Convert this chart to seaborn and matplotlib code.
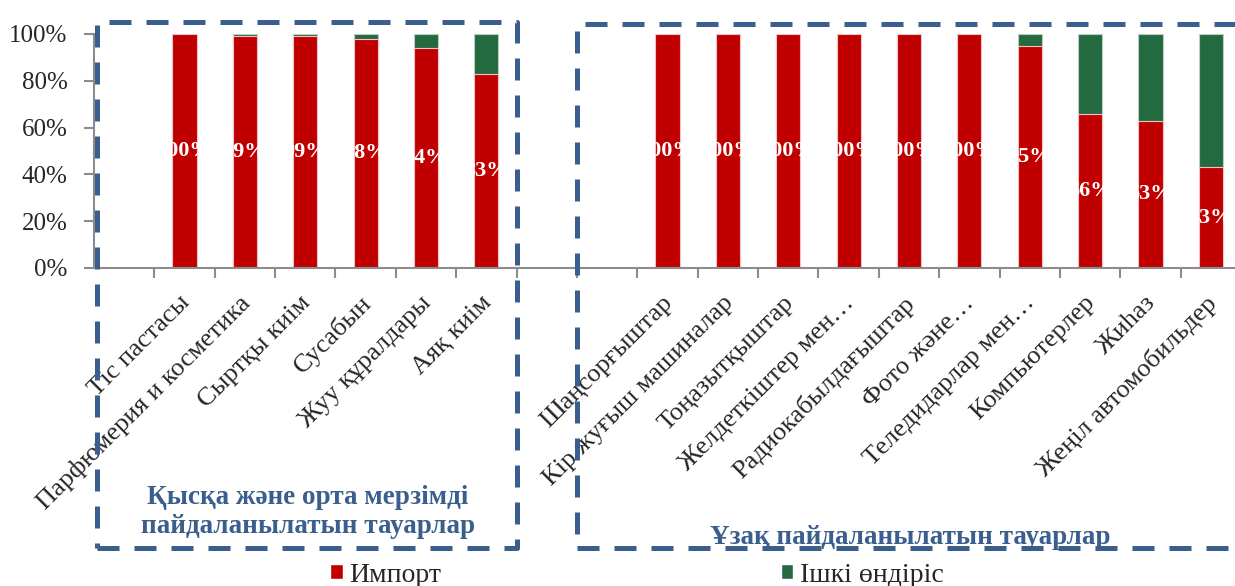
import numpy as np
import pandas as pd
import matplotlib
matplotlib.use("Agg")
import matplotlib.pyplot as plt
import seaborn as sns
from matplotlib.patches import Rectangle, Patch
from matplotlib.transforms import ScaledTranslation

# --- data -------------------------------------------------------------
short_goods = ["Тіс пастасы", "Парфюмерия и косметика", "Сыртқы киім",
               "Сусабын", "Жуу құралдары", "Аяқ киім"]
short_import = [100, 99, 99, 98, 94, 83]
short_domestic = [0, 1, 1, 2, 6, 17]

long_goods = ["Шаңсорғыштар", "Кір жуғыш машиналар", "Тоңазытқыштар",
              "Желдеткіштер мен…", "Радиокабылдағыштар", "Фото және…",
              "Теледидарлар мен…", "Компьютерлер", "Жиһаз",
              "Жеңіл автомобильдер"]
long_import = [100, 100, 100, 100, 100, 100, 95, 66, 63, 43]
long_domestic = [0, 0, 0, 0, 0, 0, 5, 34, 37, 57]

series_names = ["Импорт", "Ішкі өндіріс"]
group_titles = ["Қысқа және орта мерзімді\nпайдаланылатын тауарлар",
                "Ұзақ пайдаланылатын тауарлар"]
y_ticks = [0, 20, 40, 60, 80, 100]

RED = "#C00000"
GREEN = "#246A41"
BLUE = "#3A5F8E"
GRAY = "#8C8C8C"

# --- frame --------------------------------------------------------------
sns.set_theme(style="white")
plt.rcParams["font.family"] = ["Liberation Serif", "DejaVu Serif"]

goods = short_goods + long_goods
df = pd.DataFrame({
    "good": goods,
    "import": short_import + long_import,
    "domestic": short_domestic + long_domestic,
})
df["total"] = df["import"] + df["domestic"]

# empty slots separate the two groups on the category axis
gap_a, gap_b, gap_c = " ", "  ", "   "
order = [gap_a] + short_goods + [gap_b, gap_c] + long_goods

W, H, DPI = 1235, 586, 100
fig = plt.figure(figsize=(W / DPI, H / DPI), dpi=DPI)
ax = fig.add_axes([94 / W, 1 - 268 / H, (1241 - 94) / W, 234 / H])

sns.barplot(data=df, x="good", y="total", order=order, color=GREEN,
            width=0.4, edgecolor="#b9cfc0", linewidth=0.8,
            ax=ax, saturation=1)
sns.barplot(data=df, x="good", y="import", order=order, color=RED,
            width=0.4, edgecolor="#efc4c4", linewidth=0.8,
            ax=ax, saturation=1)
if ax.get_legend() is not None:
    ax.get_legend().remove()

ax.set_xlim(-0.5, len(order) - 0.5)
ax.set_ylim(0, 100)
ax.set_xlabel("")
ax.set_ylabel("")
ax.grid(False)

# value labels in the middle of the import segment
pos = {name: i for i, name in enumerate(order)}
for _, row in df.iterrows():
    ax.text(pos[row["good"]], row["import"] / 2, f"{row['import']:.0f}%",
            ha="center", va="center", color="white", fontsize=16,
            fontweight="bold", zorder=5)

# axes styling
for side in ("top", "right"):
    ax.spines[side].set_visible(False)
for side in ("left", "bottom"):
    ax.spines[side].set_color(GRAY)
    ax.spines[side].set_linewidth(1.5)

ax.set_yticks(y_ticks)
ax.set_yticklabels([f"{v}%" for v in y_ticks])
ax.tick_params(axis="y", length=7, width=1.5, color=GRAY, pad=12,
               labelsize=18, left=True, direction="out")

labels = ["" if n.strip() == "" else n for n in order]
ax.set_xticks(range(len(order)))
ax.set_xticklabels(labels)
ax.tick_params(axis="x", which="major", length=0, pad=17, labelsize=19)
ax.set_xticks(np.arange(0.5, len(order) - 1, 1), minor=True)
ax.tick_params(axis="x", which="minor", length=7, width=1.5, color=GRAY,
               bottom=True, direction="out")
shift = ScaledTranslation(-6 / DPI, 0, fig.dpi_scale_trans)
for lbl in ax.get_xticklabels():
    lbl.set_rotation(45)
    lbl.set_ha("right")
    lbl.set_rotation_mode("anchor")
    lbl.set_transform(lbl.get_transform() + shift)

# --- group frames -------------------------------------------------------
def px_rect(x0, y0, x1, y1):
    return Rectangle((x0 / W, 1 - y1 / H), (x1 - x0) / W, (y1 - y0) / H,
                     transform=fig.transFigure, fill=False, edgecolor=BLUE,
                     linewidth=3.6, linestyle=(0, (4.4, 3.0)),
                     joinstyle="round", zorder=10)

fig.patches.append(px_rect(97, 22, 517, 548))
fig.patches.append(px_rect(577, 24, 1265, 548))

fig.text(308 / W, 1 - 512 / H, group_titles[0], ha="center", va="center",
         color=BLUE, fontsize=19.5, fontweight="bold", linespacing=1.2)
fig.text(910 / W, 1 - 537 / H, group_titles[1], ha="center", va="center",
         color=BLUE, fontsize=19.5, fontweight="bold")

# --- legend -------------------------------------------------------------
handles = [Patch(facecolor=RED), Patch(facecolor=GREEN)]
fig.legend(handles, series_names, loc="center",
           bbox_to_anchor=(637 / W, 1 - 575 / H), ncol=2, frameon=False,
           fontsize=20, handlelength=0.45, handleheight=0.45,
           handletextpad=0.25, columnspacing=12.2, borderpad=0)

fig.savefig("out.png", dpi=DPI)
